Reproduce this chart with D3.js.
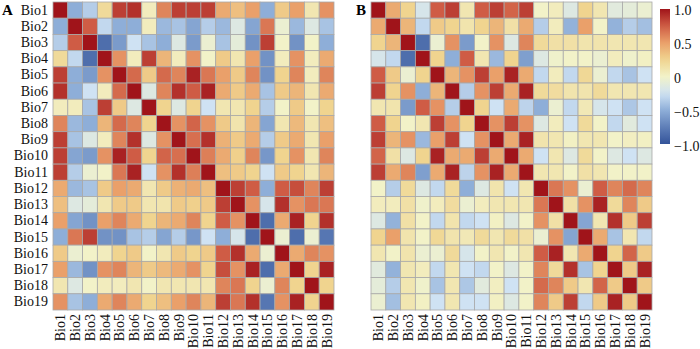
<!DOCTYPE html>
<html>
<head>
<meta charset="utf-8">
<script src="https://cdn.jsdelivr.net/npm/d3@7"></script>
<style>
  body { margin: 0; background: #fff; }
  svg { display: block; font-family: "Liberation Serif", "Times New Roman", serif; }
</style>
</head>
<body>
<div id="chart"></div>
<script>
// variable names (rows and columns of both matrices)
const bios = ["Bio1", "Bio2", "Bio3", "Bio4", "Bio5", "Bio6", "Bio7", "Bio8", "Bio9", "Bio10",
  "Bio11", "Bio12", "Bio13", "Bio14", "Bio15", "Bio16", "Bio17", "Bio18", "Bio19"];

// upper triangles (row i holds r(i, j) for j > i)
const upperA = [
  [-0.5, -0.35, 0.2, 0.85, 0.9, 0.05, 0.6, 0.85, 0.85, 0.85, 0.45, 0.35, 0.5, -0.5, 0.3, 0.5, 0.1, 0.55],
  [0.75, -0.3, -0.5, -0.5, 0.05, -0.45, -0.4, -0.55, -0.35, -0.45, -0.15, -0.55, 0.65, -0.05, -0.45, -0.15, -0.4],
  [-0.85, -0.6, -0.25, -0.4, -0.5, -0.15, -0.6, -0.05, -0.4, -0.1, -0.65, 0.85, 0.0, -0.65, 0.0, -0.5],
  [0.55, 0.05, 0.85, 0.4, 0.05, 0.55, 0.0, 0.3, 0.1, 0.5, -0.65, 0.05, 0.55, 0.05, 0.45],
  [0.7, 0.3, 0.7, 0.6, 0.95, 0.65, 0.5, 0.3, 0.6, -0.65, 0.25, 0.6, 0.05, 0.6],
  [-0.15, 0.6, 0.9, 0.75, 0.95, 0.45, 0.3, 0.45, -0.4, 0.3, 0.4, 0.1, 0.45],
  [0.25, -0.15, 0.25, -0.25, 0.1, 0.1, 0.25, -0.35, 0.0, 0.3, 0.0, 0.25],
  [0.55, 0.72, 0.55, 0.3, 0.12, 0.4, -0.55, 0.1, 0.38, 0.1, 0.35],
  [0.68, 0.9, 0.42, 0.3, 0.45, -0.35, 0.3, 0.45, 0.1, 0.5],
  [0.62, 0.45, 0.27, 0.6, -0.62, 0.25, 0.55, 0.1, 0.6],
  [0.35, 0.3, 0.25, -0.25, 0.3, 0.25, 0.1, 0.4],
  [0.85, 0.75, -0.5, 0.75, 0.8, 0.6, 0.85],
  [0.55, -0.2, 0.9, 0.55, 0.65, 0.65],
  [-0.85, 0.45, 0.95, 0.25, 0.9],
  [-0.05, -0.85, -0.05, -0.8],
  [0.45, 0.6, 0.55],
  [0.25, 0.95],
  [0.25]
];

const upperB = [
  [0.45, 0.25, -0.2, 0.75, 0.85, 0.1, 0.75, 0.85, 0.72, 0.85, 0.0, 0.05, -0.15, 0.25, 0.1, -0.12, -0.1, -0.05],
  [0.4, -0.3, 0.3, 0.25, 0.12, 0.25, 0.4, 0.15, 0.45, -0.35, 0.05, -0.48, 0.5, 0.0, -0.48, -0.35, -0.42],
  [-0.85, -0.05, 0.55, -0.6, 0.0, 0.55, -0.15, 0.6, 0.2, 0.15, 0.15, 0.12, 0.12, 0.1, 0.1, 0.1],
  [0.25, -0.5, 0.75, 0.1, -0.45, 0.25, -0.58, -0.15, -0.02, 0.0, 0.0, -0.05, 0.05, -0.02, 0.02],
  [0.4, 0.55, 0.85, 0.5, 0.95, 0.45, -0.3, 0.05, -0.3, 0.22, -0.05, -0.3, -0.4, -0.25],
  [-0.35, 0.55, 0.85, 0.45, 0.95, 0.2, 0.18, 0.12, 0.12, 0.2, 0.1, 0.1, 0.1],
  [0.25, -0.25, 0.45, -0.32, -0.5, -0.05, -0.3, 0.08, -0.2, -0.25, -0.38, -0.25],
  [0.55, 0.85, 0.55, -0.15, 0.05, -0.25, 0.2, 0.0, -0.3, -0.12, -0.25],
  [0.45, 0.95, 0.12, 0.1, 0.02, 0.1, 0.1, 0.0, 0.03, 0.02],
  [0.45, -0.25, 0.1, -0.15, 0.2, 0.0, -0.15, -0.25, -0.15],
  [0.1, 0.1, 0.0, 0.15, 0.1, 0.0, 0.0, 0.0],
  [0.65, 0.55, -0.05, 0.75, 0.6, 0.7, 0.6],
  [0.15, 0.55, 0.95, 0.2, 0.6, 0.3],
  [-0.55, 0.1, 0.9, 0.3, 0.85],
  [0.45, -0.4, 0.1, -0.3],
  [0.25, 0.72, 0.3],
  [0.3, 0.95],
  [0.3]
];

const legendTicks = [1, 0.5, 0, -0.5, -1];
const legendLabels = ["1.0", "0.5", "0", "\u22120.5", "\u22121.0"];

const W = 700, H = 349;
const gridTop = 2, gridBottom = 310;

const color = d3.scaleLinear()
  .domain([-1, -0.75, -0.5, -0.25, 0, 0.25, 0.5, 0.75, 1])
  .range(["#34549a", "#5f7fb8", "#8eaed8", "#cfe2f3", "#f2f2c8", "#f0d48f", "#eaa06a", "#cf5c45", "#a0141a"]);

// turn an upper triangle into the full list of cells
function cells(upper) {
  const out = [];
  bios.forEach((r, i) => {
    bios.forEach((c, j) => {
      let v;
      if (i === j) v = 1;
      else if (i < j) v = upper[i][j - i - 1];
      else v = upper[j][i - j - 1];
      out.push({ row: r, col: c, v: v });
    });
  });
  return out;
}

const svg = d3.select("#chart").append("svg")
  .attr("width", W)
  .attr("height", H);

function panel(upper, x0, letter, letterX, rowLabels) {
  const x = d3.scaleBand().domain(bios).range([x0, x0 + 281]);
  const y = d3.scaleBand().domain(bios).range([gridTop, gridBottom]);

  const g = svg.append("g");

  g.selectAll("rect")
    .data(cells(upper))
    .join("rect")
    .attr("x", (d) => x(d.col))
    .attr("y", (d) => y(d.row))
    .attr("width", x.bandwidth())
    .attr("height", y.bandwidth())
    .attr("fill", (d) => color(d.v))
    .attr("stroke", "#a9a9a9")
    .attr("stroke-width", 0.8);

  if (rowLabels) {
    g.append("g")
      .attr("transform", `translate(${x0}, 0)`)
      .call(d3.axisLeft(y).tickSize(0).tickPadding(5))
      .call((a) => a.select(".domain").remove())
      .selectAll("text")
      .attr("font-family", "Liberation Serif, serif")
      .attr("font-size", 14)
      .attr("fill", "#111");
  }

  g.append("g")
    .attr("transform", `translate(0, ${gridBottom})`)
    .call(d3.axisBottom(x).tickSize(0))
    .call((a) => a.select(".domain").remove())
    .selectAll("text")
    .attr("font-family", "Liberation Serif, serif")
    .attr("font-size", 14)
    .attr("fill", "#111")
    .attr("transform", "rotate(-90)")
    .attr("text-anchor", "end")
    .attr("x", -4)
    .attr("y", 0)
    .attr("dy", "0.35em");

  svg.append("text")
    .attr("x", letterX)
    .attr("y", 15)
    .attr("font-size", 15)
    .attr("font-weight", "bold")
    .text(letter);
}

panel(upperA, 53, "A", 2, true);
panel(upperB, 371, "B", 356, false);

// colour bar
const defs = svg.append("defs");
const grad = defs.append("linearGradient")
  .attr("id", "cbar")
  .attr("x1", 0).attr("y1", 1)
  .attr("x2", 0).attr("y2", 0);
grad.selectAll("stop")
  .data(d3.range(0, 1.0001, 0.05))
  .join("stop")
  .attr("offset", (t) => t)
  .attr("stop-color", (t) => color(-1 + 2 * t));

svg.append("rect")
  .attr("x", 660)
  .attr("y", 9)
  .attr("width", 10)
  .attr("height", 135)
  .attr("fill", "url(#cbar)");

const ly = d3.scaleLinear().domain([-1, 1]).range([146, 10]);
svg.append("g")
  .selectAll("text")
  .data(legendTicks)
  .join("text")
  .attr("x", 674)
  .attr("y", (d) => ly(d))
  .attr("dy", "0.35em")
  .attr("font-size", 14)
  .attr("fill", "#111")
  .text((d, i) => legendLabels[i]);
</script>
</body>
</html>
